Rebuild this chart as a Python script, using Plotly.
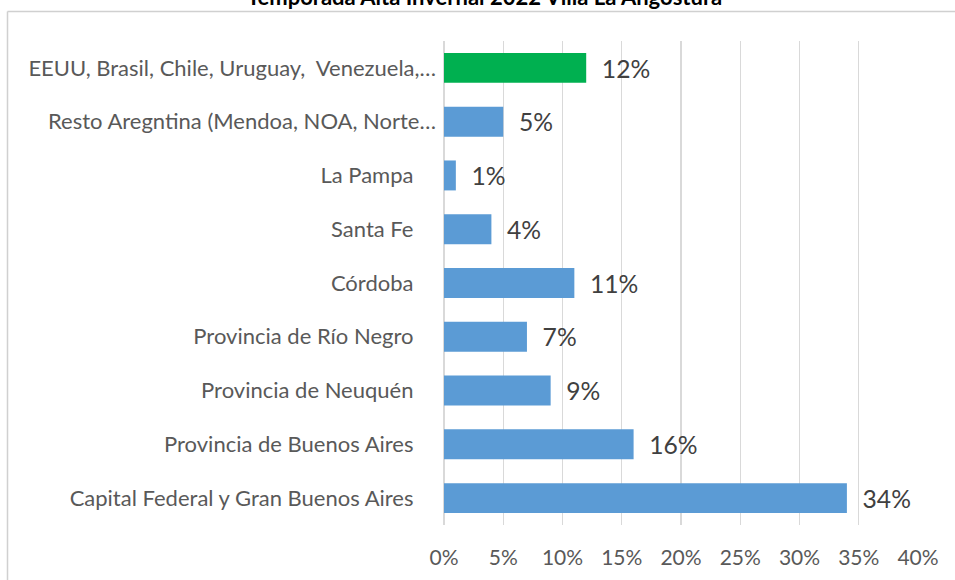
import plotly.graph_objects as go

title_text = "Temporada Alta Invernal 2022 Villa La Angostura"

categories = [
    "Capital Federal y Gran Buenos Aires",
    "Provincia de Buenos Aires",
    "Provincia de Neuquén",
    "Provincia de Río Negro",
    "Córdoba",
    "Santa Fe",
    "La Pampa",
    "Resto Aregntina (Mendoa, NOA, Norte…",
    "EEUU, Brasil, Chile, Uruguay,\u00a0 Venezuela,…",
]
values = [0.34, 0.16, 0.09, 0.07, 0.11, 0.04, 0.01, 0.05, 0.12]
bar_colors = ["#5B9BD5"] * 8 + ["#00B050"]

tick_vals = [0, 0.05, 0.10, 0.15, 0.20, 0.25, 0.30, 0.35, 0.40]
tick_text = ["0%", "5%", "10%", "15%", "20%", "25%", "30%", "35%", "40%"]

# Excel keeps a little trailing room on labels that were not truncated
cat_ticktext = [c if c.endswith("…") else c + "\u00a0" * 4 for c in categories]

W, H = 955, 580
L, R, T, B = 444, 37, 41, 55
pw, ph = W - L - R, H - T - B

def px_x(x):
    return (x - L) / pw

def px_y(y):
    return (H - B - y) / ph

fig = go.Figure()
fig.add_trace(go.Bar(
    y=categories,
    x=values,
    orientation="h",
    marker=dict(color=bar_colors, line=dict(width=0)),
    text=["\u00a0\u00a0" + f"{round(v*100)}%" for v in values],
    textposition="outside",
    textfont=dict(family="Lato", size=28, color="#404040"),
    cliponaxis=False,
    hoverinfo="skip",
))

fig.update_layout(
    width=W, height=H, autosize=False,
    margin=dict(l=L, r=R, t=T, b=B, pad=0),
    paper_bgcolor="white", plot_bgcolor="white",
    bargap=0.443,
    showlegend=False,
    font=dict(family="Lato", color="#595959"),
    xaxis=dict(
        range=[0, 0.40], tickvals=tick_vals, ticktext=tick_text,
        showgrid=True, gridcolor="#D9D9D9", gridwidth=1.3,
        zeroline=True, zerolinecolor="#D9D9D9", zerolinewidth=1.3,
        showline=False, ticks="", ticklabelstandoff=18,
        tickfont=dict(family="Lato", size=21, color="#595959"),
        fixedrange=True,
    ),
    yaxis=dict(
        categoryorder="array", categoryarray=categories,
        tickmode="array", tickvals=categories, ticktext=cat_ticktext,
        showgrid=False, zeroline=False, showline=False, ticks="",
        ticklabelstandoff=7,
        tickfont=dict(family="Lato", size=22, color="#595959"),
        fixedrange=True,
    ),
    annotations=[dict(
        text="<b>" + title_text + "</b>",
        xref="paper", yref="paper",
        x=px_x(484), y=px_y(12), xanchor="center", yanchor="bottom",
        showarrow=False,
        font=dict(family="Lato", size=22, color="#000000"),
    )],
    shapes=[
        dict(type="line", xref="paper", yref="paper", layer="above",
             x0=px_x(7.5), x1=px_x(960), y0=px_y(11.5), y1=px_y(11.5),
             line=dict(color="#D0D0D0", width=1.5)),
        dict(type="line", xref="paper", yref="paper", layer="above",
             x0=px_x(7.5), x1=px_x(7.5), y0=px_y(11.5), y1=px_y(585),
             line=dict(color="#D0D0D0", width=1.5)),
    ],
)

fig.write_html(
    "out.html",
    config={"displayModeBar": False, "staticPlot": True},
    post_script="document.body.style.margin='0';document.body.style.padding='0';document.body.style.overflow='hidden';",
)
